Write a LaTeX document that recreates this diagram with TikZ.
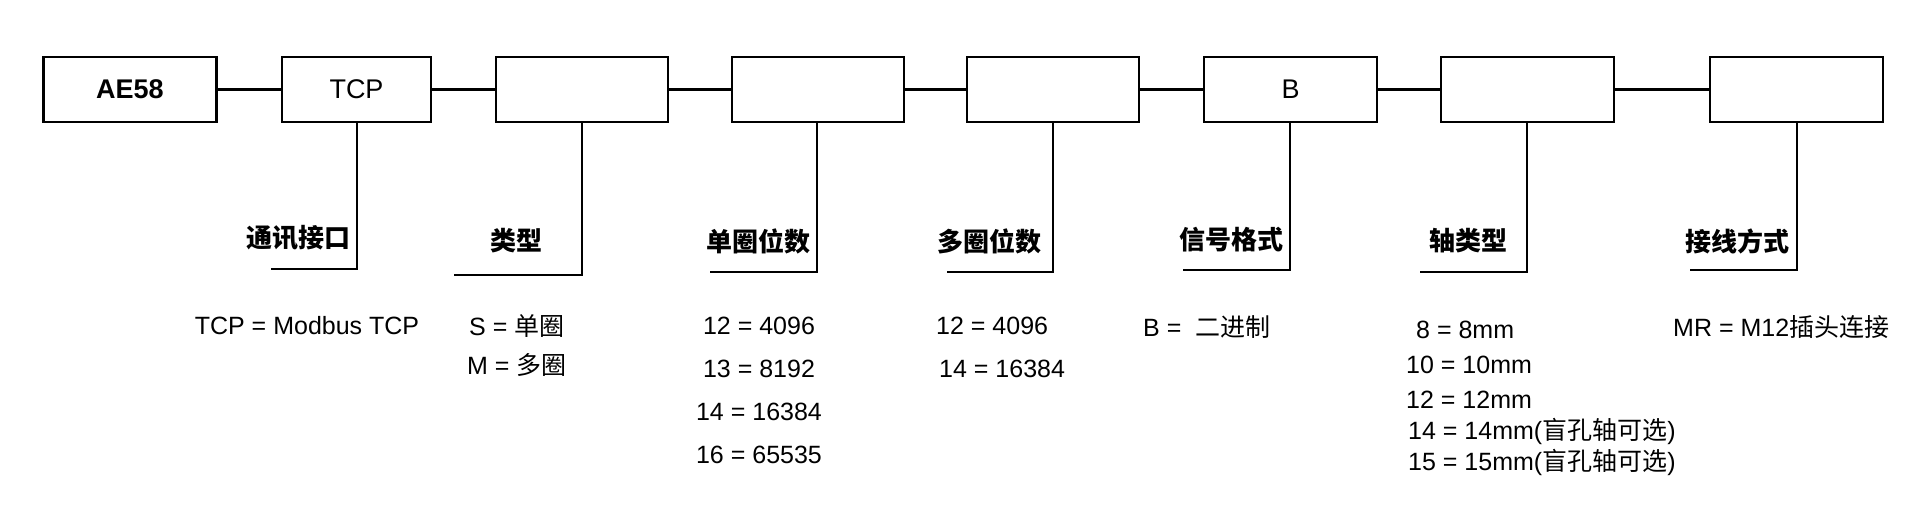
\documentclass[tikz,border=0pt]{standalone}
\usepackage{fontspec}
\setmainfont{Liberation Sans}
\newfontfamily\cjk{Noto Sans CJK SC}
\begin{document}
\begin{tikzpicture}[x=1pt,y=-1pt,line width=2.4pt,
  box/.style={draw,minimum height=65pt,inner sep=0pt,font=\fontsize{27}{30}\selectfont},
  lab/.style={font=\fontsize{26}{30}\selectfont\cjk\bfseries,inner sep=0pt},
  val/.style={font=\fontsize{25}{30}\selectfont,inner sep=0pt,anchor=west}]
\useasboundingbox (0,0) rectangle (1920,520);
\node[box,minimum width=173pt,font=\fontsize{27}{30}\selectfont\bfseries] (b1) at (130,89.5) {AE58};
\node[box,minimum width=149pt] (b2) at (356.5,89.5) {TCP};
\node[box,minimum width=172pt] (b3) at (582,89.5) {};
\node[box,minimum width=172pt] (b4) at (818,89.5) {};
\node[box,minimum width=172pt] (b5) at (1053,89.5) {};
\node[box,minimum width=173pt] (b6) at (1290.5,89.5) {B};
\node[box,minimum width=173pt] (b7) at (1527.5,89.5) {};
\node[box,minimum width=173pt] (b8) at (1796.5,89.5) {};
\foreach \a/\b in {b1/b2,b2/b3,b3/b4,b4/b5,b5/b6,b6/b7,b7/b8}
  \draw (\a.east) -- (\b.west);
% L-shaped leaders
\coordinate (c2) at (357,269); \coordinate (e2) at (271,269);
\coordinate (c3) at (582,275); \coordinate (e3) at (454,275);
\coordinate (c4) at (817,272); \coordinate (e4) at (710,272);
\coordinate (c5) at (1053,272); \coordinate (e5) at (947,272);
\coordinate (c6) at (1290,270); \coordinate (e6) at (1183,270);
\coordinate (c7) at (1527,272); \coordinate (e7) at (1420,272);
\coordinate (c8) at (1797,270); \coordinate (e8) at (1690,270);
\foreach \i in {2,...,8} \draw (b\i.south -| c\i) -- (c\i) -- (e\i);
\node[lab] (l2) at (298,238) {通讯接口};
\node[lab] (l3) at (516,241) {类型};
\node[lab] (l4) at (758,241) {单圈位数};
\node[lab] (l5) at (989,241) {多圈位数};
\node[lab] (l6) at (1231,240) {信号格式};
\node[lab] (l7) at (1468,241) {轴类型};
\node[lab] (l8) at (1737,241) {接线方式};
% values
\node[val,anchor=center] (v2) at (307,326) {TCP = Modbus TCP};
\node[val] (v3a) at (468,326) {S = {\cjk 单圈}};
\node[val] (v3b) at (466,365) {M = {\cjk 多圈}};
\node[val,anchor=center] (v4a) at (759,326) {12 = 4096};
\node[val,anchor=center] (v4b) at (759,369) {13 = 8192};
\node[val,anchor=center] (v4c) at (759,412) {14 = 16384};
\node[val,anchor=center] (v4d) at (759,455) {16 = 65535};
\node[val] (v5a) at (935,326) {12 = 4096};
\node[val] (v5b) at (938,369) {14 = 16384};
\node[val] (v6) at (1142,327) {B = \ {\cjk 二进制}};
\node[val] (v7a) at (1415,330) {8 = 8mm};
\node[val] (v7b) at (1405,365) {10 = 10mm};
\node[val] (v7c) at (1405,400) {12 = 12mm};
\node[val] (v7d) at (1407,431) {14 = 14mm({\cjk 盲孔轴可选})};
\node[val] (v7e) at (1407,462) {15 = 15mm({\cjk 盲孔轴可选})};
\node[val] (v8) at (1672,327) {MR = M12{\cjk 插头连接}};
\end{tikzpicture}
\end{document}
